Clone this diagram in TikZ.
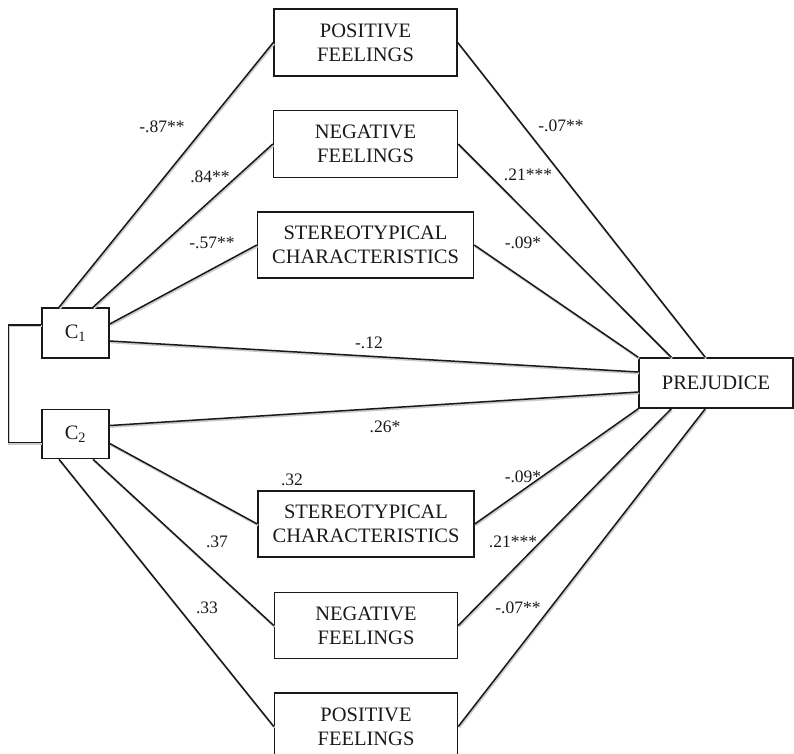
\documentclass[tikz,border=0pt]{standalone}
\usepackage{fontspec}
\setmainfont{Liberation Serif}
\usetikzlibrary{positioning}

\begin{document}
\begin{tikzpicture}[x=1pt,y=-1pt,
  box/.style={draw=black!90, line width=1.5pt, align=center, inner sep=0pt,
    text=black!90, font=\fontsize{20.5}{24}\selectfont},
  link/.style={draw=black!90, line width=1.5pt,
    preaction={draw=black!20, line width=2pt, transform canvas={shift={(0.8pt,-1.4pt)}}}},
  coef/.style={text=black!90, inner sep=0pt, font=\fontsize{17.5}{20}\selectfont}]
\useasboundingbox (0,0) rectangle (794,753);
%
\node[box, minimum width=183pt, minimum height=67pt] (pf1) at (365.5,42.5) {POSITIVE\\FEELINGS};
\node[box, minimum width=184pt, minimum height=67pt, below = 33pt of pf1] (nf1) {NEGATIVE\\FEELINGS};
\node[box, minimum width=216pt, minimum height=66pt, below = 33pt of nf1] (sc1) {STEREOTYPICAL\\CHARACTERISTICS};
%
\node[box, minimum width=216pt, minimum height=66pt] (sc2) at (366,524) {STEREOTYPICAL\\CHARACTERISTICS};
\node[box, minimum width=183pt, minimum height=66pt, below = 34pt of sc2] (nf2) {NEGATIVE\\FEELINGS};
\node[box, minimum width=183pt, minimum height=67pt, below = 33pt of nf2] (pf2) {POSITIVE\\FEELINGS};
%
\node[box, minimum width=67pt, minimum height=50pt] (c1) at (75.5,333) {C\textsubscript{1}};
\node[box, minimum width=67pt, minimum height=49pt, below = 50pt of c1] (c2) {C\textsubscript{2}};
\node[box, minimum width=154pt, minimum height=50pt] (prej) at (716,383) {PREJUDICE};
%
\draw[link] ([yshift=8pt]c1.west) -- ++(-33pt,0) |- ([yshift=-8.5pt]c2.west);
%
\draw[link] ([xshift=-16.5pt]c1.north) -- (pf1.west);
\draw[link] ([xshift=17.5pt]c1.north) -- (nf1.west);
\draw[link] ([yshift=9pt]c1.east) -- (sc1.west);
\draw[link] ([yshift=-8pt]c1.east) -- ([yshift=11pt]prej.west);
\draw[link] ([yshift=8.5pt]c2.east) -- ([yshift=-9pt]prej.west);
\draw[link] ([yshift=-9.5pt]c2.east) -- (sc2.west);
\draw[link] ([xshift=17.5pt]c2.south) -- (nf2.west);
\draw[link] ([xshift=-16.5pt]c2.south) -- (pf2.west);
%
\draw[link] (pf1.east) -- ([xshift=67pt]prej.north west);
\draw[link] (nf1.east) -- ([xshift=33pt]prej.north west);
\draw[link] (sc1.east) -- (prej.north west);
\draw[link] (sc2.east) -- (prej.south west);
\draw[link] (nf2.east) -- ([xshift=33pt]prej.south west);
\draw[link] (pf2.east) -- ([xshift=67pt]prej.south west);
%
\node[coef] (l_pf1) at (162,127) {-.87**};
\node[coef] (l_nf1) at (210,177) {.84**};
\node[coef] (l_sc1) at (212,243) {-.57**};
\node[coef] (l_c1) at (369,343) {-.12};
\node[coef] (l_c2) at (385,427) {.26*};
\node[coef] (l_sc2) at (292,480) {.32};
\node[coef] (l_nf2) at (217,542) {.37};
\node[coef] (l_pf2) at (207,608) {.33};
%
\node[coef] (r_pf1) at (561,126) {-.07**};
\node[coef] (r_nf1) at (528,175) {.21***};
\node[coef] (r_sc1) at (523,243) {-.09*};
\node[coef] (r_sc2) at (523,477) {-.09*};
\node[coef] (r_nf2) at (513,542) {.21***};
\node[coef] (r_pf2) at (518,608) {-.07**};
\end{tikzpicture}
\end{document}
